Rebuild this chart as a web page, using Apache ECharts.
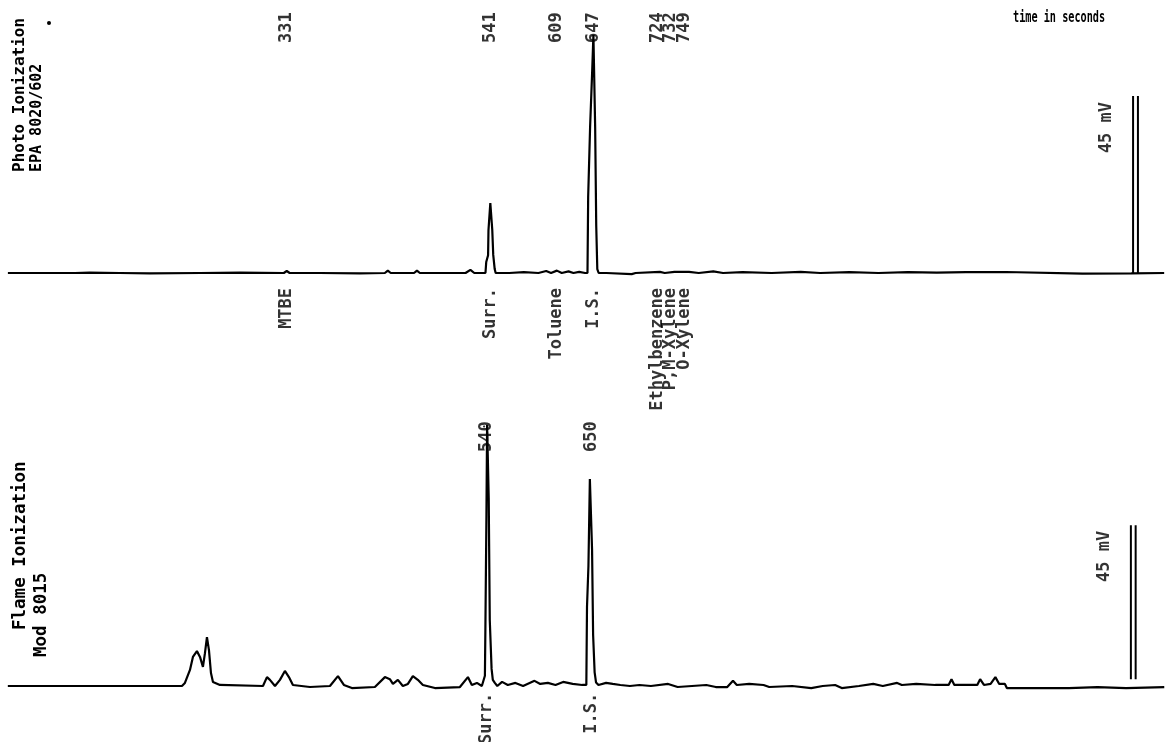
<!DOCTYPE html>
<html>
<head>
<meta charset="utf-8">
<script src="https://cdn.jsdelivr.net/npm/echarts@6/dist/echarts.min.js"></script>
<style>html,body{margin:0;padding:0;background:#fff;}#c{width:1170px;height:742px;}</style>
</head>
<body>
<div id="c"></div>
<script>
// ---- Photo Ionization trace (time in s, signal in mV) ----
var pidTrace = [
 [44,0],[113,0],[128,0.1],[159,0],[190,-0.1],[242,0],[283,0.1],[328,0],[331,0.5],[334,0],[365,0],[406,-0.1],
 [432,0],[435,0.6],[438,0],[462,0],[465,0.6],[468,0],[515,0],[520,0.8],[524,0],[535.5,0],
 [536.3,2.8],[538.2,4.5],[538.6,10.9],[540.5,17.8],[541.5,17.8],[542.5,11],[543.5,4.6],[545,1],[546,0],
 [560,0],[575,0.2],[590,0],[598,0.5],[603,0],[609,0.6],[614,0],[621,0.4],[626,0],[632,0.3],[638,0],[640.5,0],
 [641.2,19.3],[643.2,37.2],[645.3,51.1],[646.6,60.6],[647.6,60.6],[648.4,37],[649.5,12],[650.6,1],[652,0],
 [660,0],[686,-0.3],[690,0],[715,0.3],[720,0],[730,0.3],[745,0.3],[755,0],[770,0.4],[780,0],[800,0.2],[830,0],
 [860,0.3],[880,0],[910,0.2],[940,0],[970,0.2],[1000,0.1],[1030,0.2],[1060,0.2],[1071,0.25],[1073,-0.15],
 [1150,-0.15],[1200,-0.1],[1234,0]
];
// ---- Flame Ionization trace ----
var fidTrace = [
 [38,0],[220.5,0],[223.6,0.9],[228.9,4.7],[232,8.5],[236.2,10.2],[239.4,8.5],[242.5,5.6],[244.6,9.6],[246.7,14.3],
 [248.8,10.5],[250.9,3.8],[253,1.2],[260.3,0.3],[305.4,0],[309.6,2.6],[312.7,1.8],[318,0],[323.2,1.8],[328.4,4.4],
 [332.6,2.6],[336.8,0.3],[354.6,-0.3],[375.6,0],[384,2.9],[390.2,0.3],[398.6,-0.6],[422.7,-0.3],[433.2,2.6],
 [438.4,2.0],[441.6,0.6],[446.8,1.8],[452,0],[457.3,0.6],[462.5,2.9],[467.7,1.8],[473,0.3],[485.6,-0.6],
 [511.8,-0.3],[520.2,2.6],[524.3,0.3],[529.6,0.9],[534.8,0],
 [536.5,0],[538,3],[538.5,16.4],[539.6,50],[540.3,76.3],[541.2,76.3],[542,55],[543.1,19.3],[545,5],[546.3,1.8],
 [548.4,0.9],[551,0],
 [556,1.2],[562,0.3],[570,0.9],[578,0],[590,1.5],[596,0.6],[604,0.9],[612,0.3],[620,1.2],[630,0.6],[640,0.3],[644.3,0.3],
 [645,23.1],[646.5,35],[648,60.5],[649.2,60.5],[650.3,40],[651.4,15],[653,4],[654.5,1],[657,0.3],
 [665,0.9],[672,0.6],[680,0.3],[690,0],[700,0.3],[712,0],[730,0.6],[740,-0.3],[755,0],[770,0.3],[780,-0.3],
 [792,-0.3],[798,1.5],[802,0.3],[815,0.6],[830,0.3],[836,-0.3],[860,0],[880,-0.6],[892,0],[905,0.3],[912,-0.6],
 [930,0],[945,0.6],[955,0],[970,0.9],[975,0.3],[990,0.6],[1010,0.3],[1024,0.3],[1027,2],[1030,0.3],[1040,0.3],
 [1054,0.3],[1057,2.0],[1061,0.3],[1068,0.6],[1073,2.6],[1077,0.6],[1083,0.6],[1085,-0.6],[1150,-0.6],
 [1180,-0.3],[1210,-0.6],[1250,-0.3]
];
// ---- peak annotations ----
var pidLabelTimes = [331, 541, 609, 647, 713, 726, 740];
var pidPeakLabels = ['331', '541', '609', '647', '724', '732', '749'];
var pidCompounds  = ['MTBE', 'Surr.', 'Toluene', 'I.S.', 'Ethylbenzene', 'P,M-Xylene', 'O-Xylene'];
var fidLabelTimes = [540, 650];
var fidPeakLabels = ['540', '650'];
var fidCompounds  = ['Surr.', 'I.S.'];
// ---- 45 mV scale bars: [time, from mV, to mV] ----
var pidScaleBars = [[1202, 0, 45], [1207, 0, 45]];
var fidScaleBars = [[1215, 2, 47], [1220, 2, 47]];
var scaleText = '45 mV';

var FONT = 'DejaVu Sans Mono';
function labelSeries(xi, times, texts, yv, align) {
  return {
    type: 'scatter', xAxisIndex: xi, yAxisIndex: xi, symbolSize: 1, clip: false, silent: true,
    itemStyle: {color: 'rgba(0,0,0,0)'},
    data: times.map(function (t, i) { return {value: [t, yv], name: texts[i]}; }),
    label: {show: true, position: 'inside', rotate: 90, align: align, verticalAlign: 'middle',
      formatter: '{b}', color: '#000', fontFamily: FONT, fontSize: 17, fontWeight: 'bold'}
  };
}
function barSeries(xi, bars) {
  return bars.map(function (b) {
    return {type: 'line', xAxisIndex: xi, yAxisIndex: xi, symbol: 'none', silent: true,
      lineStyle: {color: '#000', width: 2}, data: [[b[0], b[1]], [b[0], b[2]]]};
  });
}
function traceSeries(xi, data) {
  return {type: 'line', xAxisIndex: xi, yAxisIndex: xi, symbol: 'none', silent: true,
    lineStyle: {color: '#000', width: 2.2}, data: data};
}

var series = [traceSeries(0, pidTrace), traceSeries(1, fidTrace)]
  .concat(barSeries(0, pidScaleBars), barSeries(1, fidScaleBars))
  .concat([
    labelSeries(0, pidLabelTimes, pidPeakLabels, 58.5, 'left'),
    labelSeries(0, pidLabelTimes, pidCompounds, -3.8, 'right'),
    labelSeries(1, fidLabelTimes, fidPeakLabels, 68.4, 'left'),
    labelSeries(1, fidLabelTimes, fidCompounds, -2.0, 'right'),
    labelSeries(0, [1175], [scaleText], 30.5, 'left'),
    labelSeries(1, [1187], [scaleText], 30.4, 'left')
  ]);

function vtext(x, y, txt, size) {
  return {type: 'text', x: x, y: y, rotation: Math.PI / 2, silent: true,
    style: {text: txt, font: 'bold ' + size + 'px ' + FONT, fill: '#000', align: 'left', verticalAlign: 'middle'}};
}

var chart = echarts.init(document.getElementById('c'), null, {renderer: 'canvas'});
chart.setOption({
  animation: false,
  backgroundColor: '#fff',
  grid: [
    {left: 4, width: 1166, top: 29.3, height: 322.3},
    {left: 4, width: 1166, top: 412.4, height: 290.7}
  ],
  xAxis: [
    {type: 'value', gridIndex: 0, min: 40, max: 1240, show: false},
    {type: 'value', gridIndex: 1, min: 34, max: 1256, show: false}
  ],
  yAxis: [
    {type: 'value', gridIndex: 0, min: -20, max: 62, show: false},
    {type: 'value', gridIndex: 1, min: -5, max: 80, show: false}
  ],
  graphic: [
    vtext(20, 172, 'Photo Ionization', 16),
    vtext(37, 172, 'EPA 8020/602', 15),
    {type: 'circle', shape: {cx: 49, cy: 23, r: 2}, style: {fill: '#000'}, silent: true},
    vtext(20, 630, 'Flame Ionization', 17.5),
    vtext(41, 657, 'Mod 8015', 17.5),
    {type: 'text', x: 1013, y: 18, scaleX: 0.68, silent: true,
      style: {text: 'time in seconds', font: 'bold 15px ' + FONT, fill: '#000', align: 'left', verticalAlign: 'middle'}}
  ],
  series: series
});
</script>
</body>
</html>
